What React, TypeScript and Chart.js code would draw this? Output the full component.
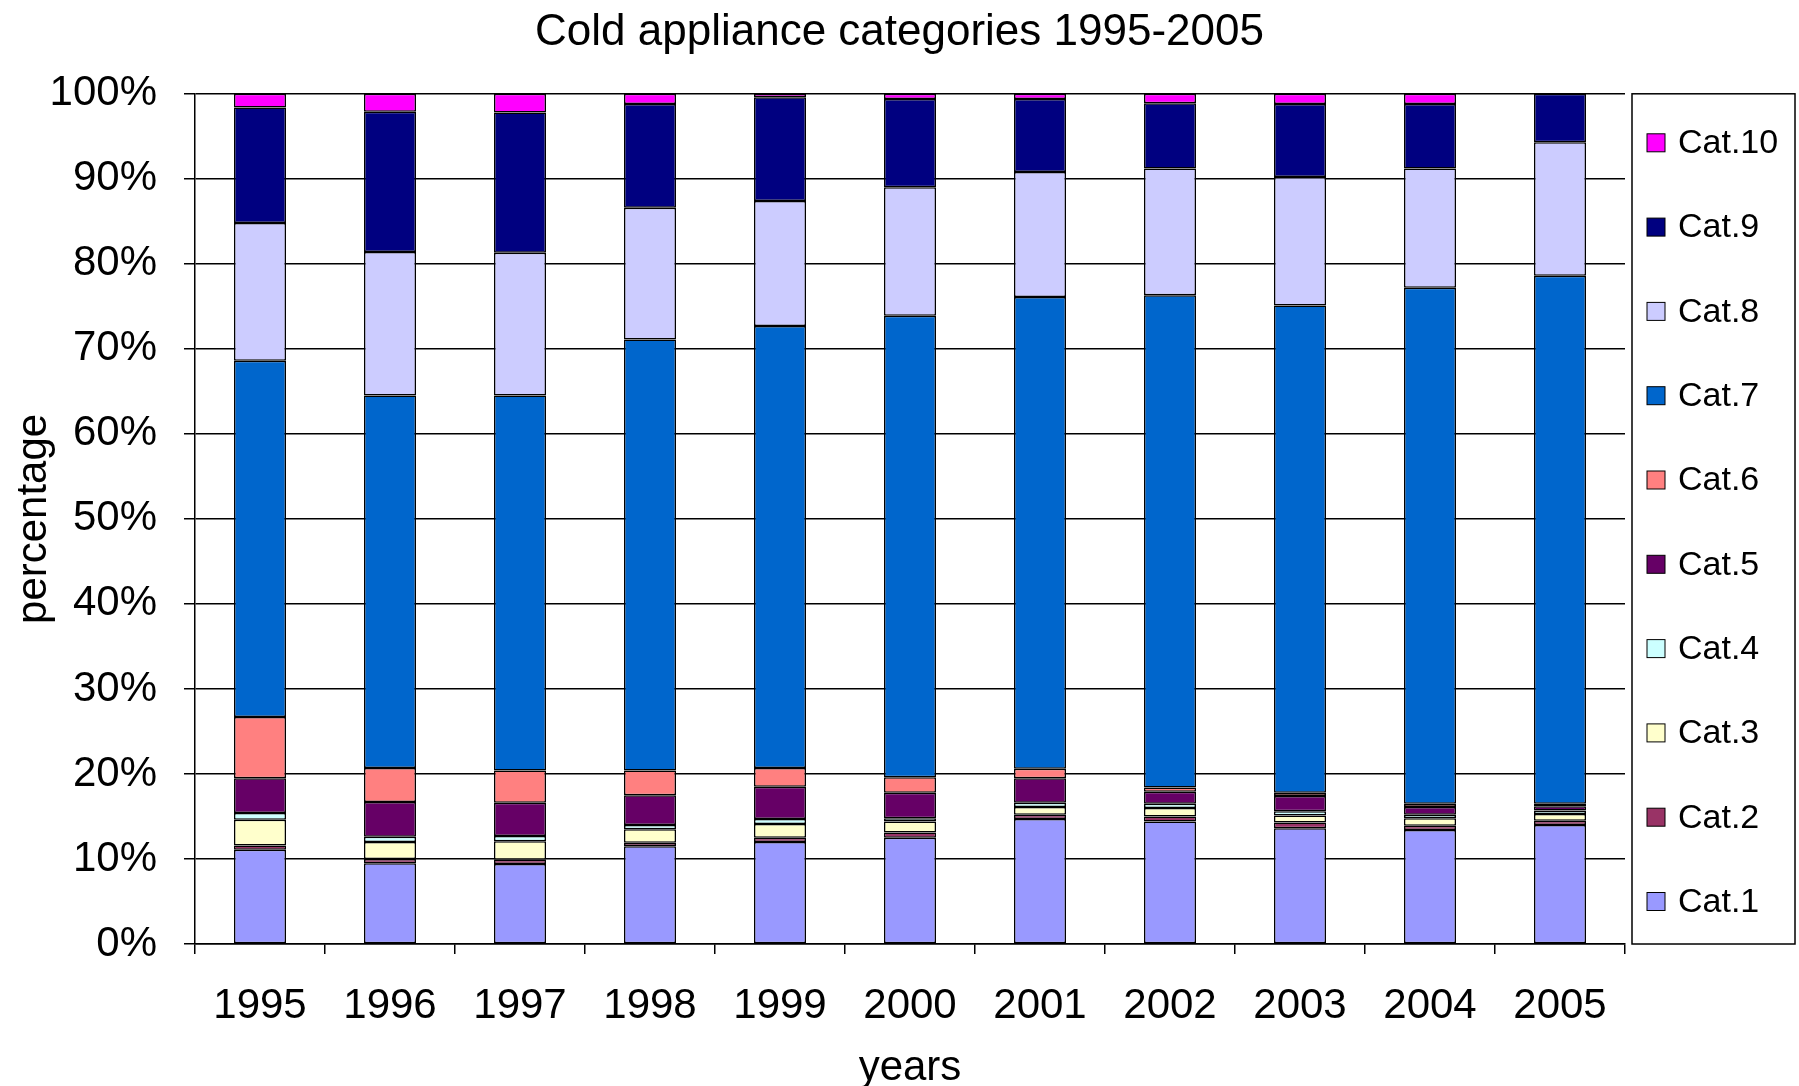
import React, { useEffect, useRef } from 'react';
import { Chart, registerables } from 'chart.js';

Chart.register(...registerables);

const years = ['1995', '1996', '1997', '1998', '1999', '2000', '2001', '2002', '2003', '2004', '2005'];
const categoryNames = ['Cat.1', 'Cat.2', 'Cat.3', 'Cat.4', 'Cat.5', 'Cat.6', 'Cat.7', 'Cat.8', 'Cat.9', 'Cat.10'];

const cat1 = [11.1, 9.5, 9.4, 11.5, 12.0, 12.5, 14.7, 14.4, 13.6, 13.4, 14.0];
const cat2 = [0.5, 0.5, 0.5, 0.4, 0.5, 0.6, 0.5, 0.6, 0.7, 0.5, 0.5];
const cat3 = [3.0, 2.0, 2.2, 1.6, 1.6, 1.3, 0.9, 1.0, 0.8, 0.9, 0.8];
const cat4 = [0.8, 0.6, 0.6, 0.5, 0.6, 0.4, 0.5, 0.5, 0.5, 0.4, 0.4];
const cat5 = [4.1, 4.1, 3.9, 3.5, 3.8, 3.0, 2.9, 1.4, 1.8, 0.9, 0.5];
const cat6 = [7.2, 4.0, 3.8, 2.9, 2.2, 1.8, 1.1, 0.5, 0.4, 0.4, 0.3];
const cat7 = [41.9, 43.8, 44.1, 50.7, 52.0, 54.3, 55.5, 57.9, 57.3, 60.7, 62.1];
const cat8 = [16.2, 16.9, 16.8, 15.5, 14.7, 15.1, 14.7, 14.9, 15.1, 14.0, 15.7];
const cat9 = [13.6, 16.5, 16.5, 12.2, 12.2, 10.4, 8.6, 7.7, 8.6, 7.6, 5.7];
const cat10 = [1.6, 2.1, 2.2, 1.2, 0.4, 0.6, 0.6, 1.1, 1.2, 1.2, 0.0];

const colors = ['#9999FF', '#993366', '#FFFFCC', '#CCFFFF', '#660066', '#FF8080', '#0066CC', '#CCCCFF', '#000080', '#FF00FF'];

const FONT = '"Liberation Sans", Arial, Helvetica, sans-serif';

export default function App() {
  const ref = useRef<HTMLCanvasElement>(null);

  useEffect(() => {
    document.body.style.margin = '0';
    const series = [cat1, cat2, cat3, cat4, cat5, cat6, cat7, cat8, cat9, cat10];
    Chart.defaults.font.family = FONT;
    Chart.defaults.color = '#000';

    const boxLegend = {
      id: 'boxLegend',
      afterDraw(chart: any) {
        const { ctx, chartArea } = chart;
        const left = chartArea.right + 7;
        const right = chart.width - 4;
        ctx.save();
        ctx.strokeStyle = '#000';
        ctx.lineWidth = 1.5;
        ctx.strokeRect(left, chartArea.top, right - left, chartArea.bottom - chartArea.top);
        const ds = chart.data.datasets;
        const n = ds.length;
        const step = 84.3;
        const first = chartArea.top + 49;
        ctx.font = `34px ${FONT}`;
        ctx.textBaseline = 'middle';
        ctx.textAlign = 'left';
        for (let i = 0; i < n; i++) {
          const d = ds[n - 1 - i];
          const cy = first + i * step;
          ctx.fillStyle = d.backgroundColor;
          ctx.fillRect(left + 15, cy - 9, 18, 18);
          ctx.lineWidth = 1;
          ctx.strokeRect(left + 15, cy - 9, 18, 18);
          ctx.fillStyle = '#000';
          ctx.fillText(d.label, left + 46, cy + 1);
        }
        ctx.restore();
      },
    };

    const chart = new Chart(ref.current!, {
      type: 'bar',
      data: {
        labels: years,
        datasets: series.map((s, i) => ({
          label: categoryNames[i],
          data: s,
          backgroundColor: colors[i],
          borderColor: '#000',
          borderWidth: 1.5,
          borderSkipped: false,
          categoryPercentage: 1,
          barPercentage: 0.4,
        })),
      },
      options: {
        responsive: false,
        animation: false,
        devicePixelRatio: 1,
        layout: { padding: 0 },
        plugins: {
          legend: { display: false },
          tooltip: { enabled: false },
          title: {
            display: true,
            text: 'Cold appliance categories 1995-2005',
            color: '#000',
            font: { family: FONT, size: 44, weight: 'normal' },
            padding: { top: 6, bottom: 35 },
          },
        },
        scales: {
          x: {
            stacked: true,
            grid: { display: true, drawOnChartArea: false, color: '#000', lineWidth: 1.5, tickLength: 10, offset: true },
            border: { color: '#000', width: 1.5 },
            ticks: { color: '#000', font: { family: FONT, size: 42 }, padding: 27, maxRotation: 0, autoSkip: false },
            title: { display: true, text: 'years', color: '#000', font: { family: FONT, size: 42 }, padding: { top: 0, bottom: -8 } },
            afterFit: (s: any) => { s.height = 142; },
          },
          y: {
            stacked: true,
            min: 0,
            max: 100,
            ticks: { stepSize: 10, callback: (v: any) => v + '%', color: '#000', font: { family: FONT, size: 42 }, padding: 27 },
            grid: { color: '#000', lineWidth: 1.5, tickLength: 11, drawTicks: true },
            border: { color: '#000', width: 1.5 },
            title: { display: true, text: 'percentage', color: '#000', font: { family: FONT, size: 42 }, padding: { top: 9, bottom: 0 } },
            afterFit: (s: any) => { s.width = 195; },
          },
          legendSpace: {
            type: 'linear',
            position: 'right',
            display: true,
            grid: { display: false, drawTicks: false },
            border: { display: false },
            ticks: { display: false },
            afterFit: (s: any) => { s.width = 174; },
          },
        },
      },
      plugins: [boxLegend],
    } as any);

    return () => chart.destroy();
  }, []);

  return (
    <div style={{ width: 1799, height: 1086, background: '#fff' }}>
      <canvas ref={ref} width={1799} height={1086} style={{ display: 'block' }} />
    </div>
  );
}
